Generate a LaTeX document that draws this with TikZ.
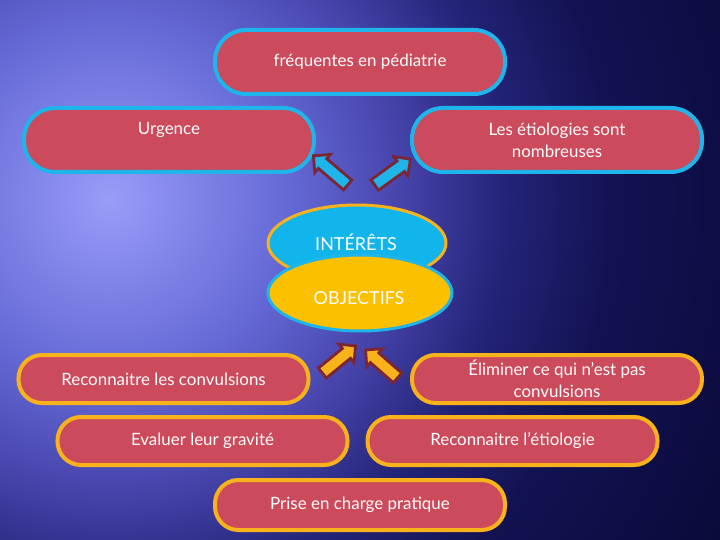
\documentclass[tikz,border=0pt]{standalone}
\usepackage{fontspec}
\setmainfont{Lato}
\usetikzlibrary{shapes.geometric,shapes.arrows}
\definecolor{bgA}{HTML}{9A9CF6}
\definecolor{bgB}{HTML}{8084E8}
\definecolor{bgC}{HTML}{6468D4}
\definecolor{bgD}{HTML}{4A48B0}
\definecolor{bgE}{HTML}{242479}
\definecolor{bgF}{HTML}{121252}
\definecolor{bgG}{HTML}{0A0A3A}
\definecolor{boxfill}{HTML}{CB4A5B}
\definecolor{cyanb}{HTML}{1FB4EA}
\definecolor{orangeb}{HTML}{F7B21C}
\definecolor{ellcyan}{HTML}{12B4EC}
\definecolor{ellyel}{HTML}{FBC000}
\definecolor{maroon}{HTML}{7B2535}
\pgfdeclareradialshading{bgshade}{\pgfpoint{0bp}{0bp}}{color(0bp)=(bgA); color(3bp)=(bgB); color(6.5bp)=(bgC); color(10bp)=(bgD); color(14bp)=(bgE); color(18bp)=(bgF); color(25bp)=(bgG); color(50bp)=(bgG)}
\tikzset{
  pill/.style={draw, line width=4bp, fill=boxfill, minimum width=290bp, text=white, font=\fontsize{17}{22}\selectfont, align=center, inner sep=0pt},
  cpill/.style={pill, draw=cyanb, minimum height=64bp, rounded corners=31bp},
  opill/.style={pill, draw=orangeb, minimum height=48bp, rounded corners=23.5bp},
  blk/.style={single arrow, draw=maroon, line width=2.8bp, inner sep=5bp, minimum width=21bp, single arrow head extend=5.5bp, single arrow tip angle=90},
  barrow/.style={blk, fill=cyanb},
  yarrow/.style={blk, fill=orangeb},
  ell/.style={ellipse, line width=3bp, inner sep=0pt},
  elltext/.style={text=white, font=\fontsize{18}{20}\selectfont}
}
\begin{document}
\begin{tikzpicture}[x=1bp,y=-1bp]
\useasboundingbox (0,0) rectangle (720,540);
\begin{scope}
\clip (0,0) rectangle (720,540);
\shade[shading=bgshade] (110,200) circle (700);
\end{scope}
% top boxes
\node[cpill] (freq) at (360,62) {fréquentes en pédiatrie};
\node[cpill] (urg) at (169,140) {Urgence\\[2pt]~};
\node[cpill] (etio) at (557,140) {Les étiologies sont\\nombreuses};
% ellipses
\node[ell, draw=orangeb, fill=ellcyan, minimum width=178bp, minimum height=76bp] (int) at (357,243) {};
\node[ell, draw=cyanb, fill=ellyel, minimum width=184bp, minimum height=76bp] (obj) at (360,293) {};
\node[elltext] (intt) at (356,242) {INTÉRÊTS};
\node[elltext] (objt) at (359,298) {OBJECTIFS};
% blue arrows
\node[barrow, minimum height=45bp, rotate=139.5] (a1) at (333,172.5) {};
\node[barrow, minimum height=44bp, rotate=35.8] (a2) at (390,174) {};
% yellow arrows
\node[yarrow, minimum height=43bp, rotate=39.3] (a3) at (336.5,361.5) {};
\node[yarrow, minimum height=42.5bp, rotate=138.8] (a4) at (384,366) {};
% bottom boxes
\node[opill] (rec) at (163.5,379) {Reconnaitre les convulsions};
\node[opill] (elim) at (557,379) {Éliminer ce qui n’est pas\\convulsions};
\node[opill] (eval) at (202.5,441) {Evaluer leur gravité};
\node[opill] (retio) at (512.5,441) {Reconnaitre l’étiologie};
\node[opill, minimum height=50bp] (prise) at (360,505) {Prise en charge pratique};
\end{tikzpicture}
\end{document}
